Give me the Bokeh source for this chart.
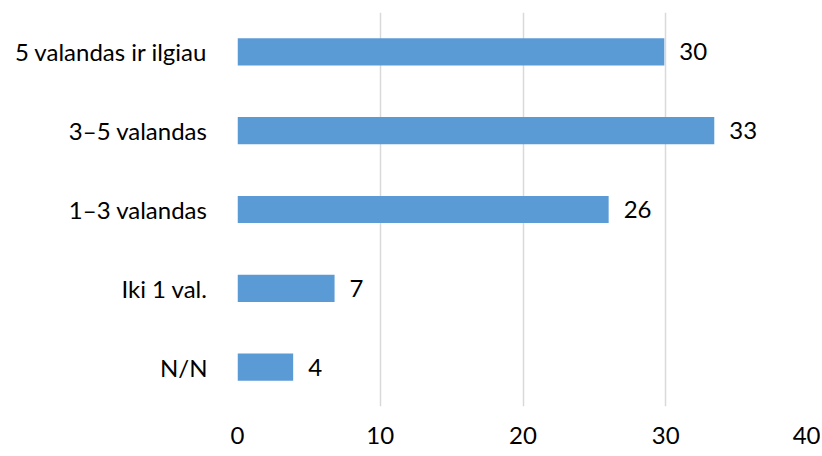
from bokeh.plotting import figure
from bokeh.models import ColumnDataSource, Range1d, FactorRange
from bokeh.embed import file_html
from bokeh.resources import INLINE
from bokeh.core.properties import value

categories = ["N/N", "Iki 1 val.", "1–3 valandas", "3–5 valandas", "5 valandas ir ilgiau"]
values = [3.9, 6.8, 26.0, 33.4, 29.9]
labels = ["4", "7", "26", "33", "30"]
x_ticks = [0, 10, 20, 30, 40]

FONT = "Lato"
FS = "24px"
src = ColumnDataSource(dict(cat=categories, val=values, lab=labels))

p = figure(
    y_range=FactorRange(*categories, range_padding=0),
    x_range=Range1d(0, 40),
    frame_width=571, frame_height=394,
    min_border_left=237, min_border_right=12, min_border_top=12, min_border_bottom=48,
    output_backend="svg", toolbar_location=None,
)
p.outline_line_color = None
p.background_fill_color = "white"

p.hbar(y="cat", right="val", left=0, height=0.345, source=src,
       fill_color="#5B9BD5", line_color="#5B9BD5", line_width=0)

p.text(x="val", y="cat", text="lab", source=src, x_offset=15,
       text_baseline="middle", text_align="left",
       text_font=value(FONT), text_font_size=FS, text_color="#000000")

p.xaxis.ticker = x_ticks
p.xaxis.axis_line_color = None
p.xaxis.major_tick_line_color = None
p.xaxis.minor_tick_line_color = None
p.xaxis.major_label_standoff = 14
p.xaxis.major_label_text_font = FONT
p.xaxis.major_label_text_font_size = FS
p.xaxis.major_label_text_color = "#000000"

p.yaxis.axis_line_color = None
p.yaxis.major_tick_line_color = None
p.yaxis.minor_tick_line_color = None
p.yaxis.major_label_standoff = 24
p.yaxis.major_label_text_font = FONT
p.yaxis.major_label_text_font_size = FS
p.yaxis.major_label_text_color = "#000000"

p.ygrid.grid_line_color = None
p.xgrid.grid_line_color = "#D9D9D9"
p.xgrid.grid_line_width = 1.5

open("out.html", "w").write(file_html(p, INLINE))
